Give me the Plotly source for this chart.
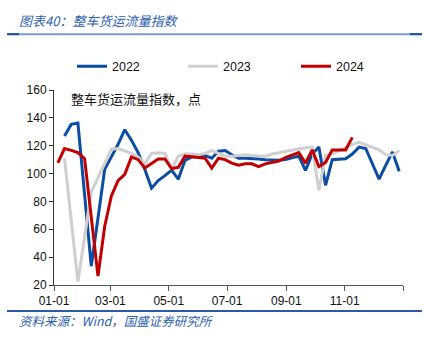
import pandas as pd
import plotly.graph_objects as go

# Weekly full-truckload freight flow index, one line per year
v2022 = [127, 135.3, 136.2, 87, 33.6, 68, 103, 112, 121, 131.5,
         124, 115, 103, 89.5, 95, 98.5, 102.5, 96, 109.5, 112,
         112, 113, 111, 116, 116.5, 113.5, 111, 111, 111, 110.5,
         110, 109.5, 109.5, 110, 111, 112.5, 102.3, 114, 119, 91.6,
         110, 110.5, 110.7, 114, 119, 118, 107, 96, 106, 115.5,
         101.6]
v2023 = [111, 66, 22.3, 54.5, 86.8, 97, 107, 117.5, 118, 116.5,
         114.5, 112, 107, 114.5, 115, 114.5, 103, 112.5, 114.3, 114,
         113.5, 114.5, 116.5, 114.5, 112.5, 112.5, 113, 113.5, 113, 113,
         112.5, 114, 115, 115.5, 117, 118, 118.5, 119, 88, 113,
         114.3, 116.5, 119, 121, 122.5, 120.7, 119, 117, 113.6, 113,
         116.5]
v2024 = [107.6, 118, 116.7, 115, 110.7, 68, 26.4, 62, 84, 95,
         99.5, 112, 110, 104, 107.5, 110.5, 110.5, 103.5, 104.5, 112.5,
         112, 111.5, 111, 104, 111, 110, 107.5, 106, 107, 107,
         105, 107, 108, 109, 111.5, 113, 115, 107.5, 117, 105,
         108, 117, 117, 117, 126]

# All years share one calendar (month-day) axis
start_22_23 = "2023-01-12"
start_24 = "2023-01-05"
d2022 = pd.date_range(start_22_23, periods=len(v2022), freq="7D")
d2023 = pd.date_range(start_22_23, periods=len(v2023), freq="7D")
d2024 = pd.date_range(start_24, periods=len(v2024), freq="7D")

tick_vals = ["2023-01-01", "2023-03-01", "2023-05-01", "2023-07-01",
             "2023-09-01", "2023-11-01", "2024-01-01"]
tick_text = ["01-01", "03-01", "05-01", "07-01", "09-01", "11-01", ""]

series = [("2022", d2022, v2022, "#0a4da2", "legend"),
          ("2023", d2023, v2023, "#cfcfcf", "legend2"),
          ("2024", d2024, v2024, "#c00000", "legend3")]

W, H = 424, 345
ML, MR, MT, MB = 54, 21, 89.5, 60
PW, PH = W - ML - MR, H - MT - MB


def px_x(x):
    return (x - ML) / PW


def px_y(y):
    return (H - MB - y) / PH


fig = go.Figure()
for name, d, v, c, lg in series:
    fig.add_trace(go.Scatter(x=d, y=v, name=name, mode="lines", legend=lg,
                             line=dict(color=c, width=3)))

cjk = "Noto Sans CJK SC"
latin = "Liberation Sans, Arial, sans-serif"
blue = "#2f5faf"


def legend_at(px):
    return dict(orientation="h", x=px_x(px), y=px_y(66),
                xanchor="left", yanchor="middle",
                font=dict(family=latin, size=12.5, color="#111111"),
                bgcolor="rgba(0,0,0,0)", itemclick=False,
                borderwidth=0)


fig.update_layout(
    width=W, height=H,
    margin=dict(l=ML, r=MR, t=MT, b=MB),
    paper_bgcolor="white", plot_bgcolor="white",
    font=dict(family=latin, size=12, color="#111111"),
    showlegend=True,
    legend=legend_at(72),
    legend2=legend_at(183),
    legend3=legend_at(296),
    xaxis=dict(type="date", range=["2023-01-01", "2024-01-01"],
               tickvals=tick_vals, ticktext=tick_text,
               showgrid=False, zeroline=False,
               showline=True, linecolor="#555555", linewidth=1,
               ticks="outside", ticklen=5, tickcolor="#555555",
               tickfont=dict(family=latin, size=12, color="#111111")),
    yaxis=dict(range=[20, 160], dtick=20,
               showgrid=False, zeroline=False,
               showline=True, linecolor="#333333", linewidth=1,
               ticks="outside", ticklen=4, tickcolor="#333333",
               tickfont=dict(family=latin, size=12, color="#111111")),
)

fig.add_annotation(text="整车货运流量指数，点", xref="paper", yref="paper",
                   x=px_x(69), y=px_y(98), xanchor="left", yanchor="middle",
                   showarrow=False, font=dict(family=cjk, size=13, color="#111111"))

fig.add_annotation(text="<i>图表40：整车货运流量指数</i>", xref="paper", yref="paper",
                   x=px_x(17), y=px_y(20), xanchor="left", yanchor="middle",
                   showarrow=False, font=dict(family=cjk, size=13, color=blue))

fig.add_annotation(text="<i>资料来源：Wind，国盛证券研究所</i>", xref="paper", yref="paper",
                   x=px_x(17), y=px_y(321), xanchor="left", yanchor="middle",
                   showarrow=False, font=dict(family=cjk, size=12.5, color=blue))

# Header rule with darker end caps, and footer rule
fig.add_shape(type="line", xref="paper", yref="paper",
              x0=px_x(7), x1=px_x(422), y0=px_y(33.5), y1=px_y(33.5),
              line=dict(color="#7b9bd0", width=2))
for a, b in [(7, 19), (410, 422)]:
    fig.add_shape(type="line", xref="paper", yref="paper",
                  x0=px_x(a), x1=px_x(b), y0=px_y(33.5), y1=px_y(33.5),
                  line=dict(color="#1f4e9e", width=2))
fig.add_shape(type="line", xref="paper", yref="paper",
              x0=px_x(7), x1=px_x(422), y0=px_y(311), y1=px_y(311),
              line=dict(color="#2a5aa8", width=2))

fig.write_html("out.html")
